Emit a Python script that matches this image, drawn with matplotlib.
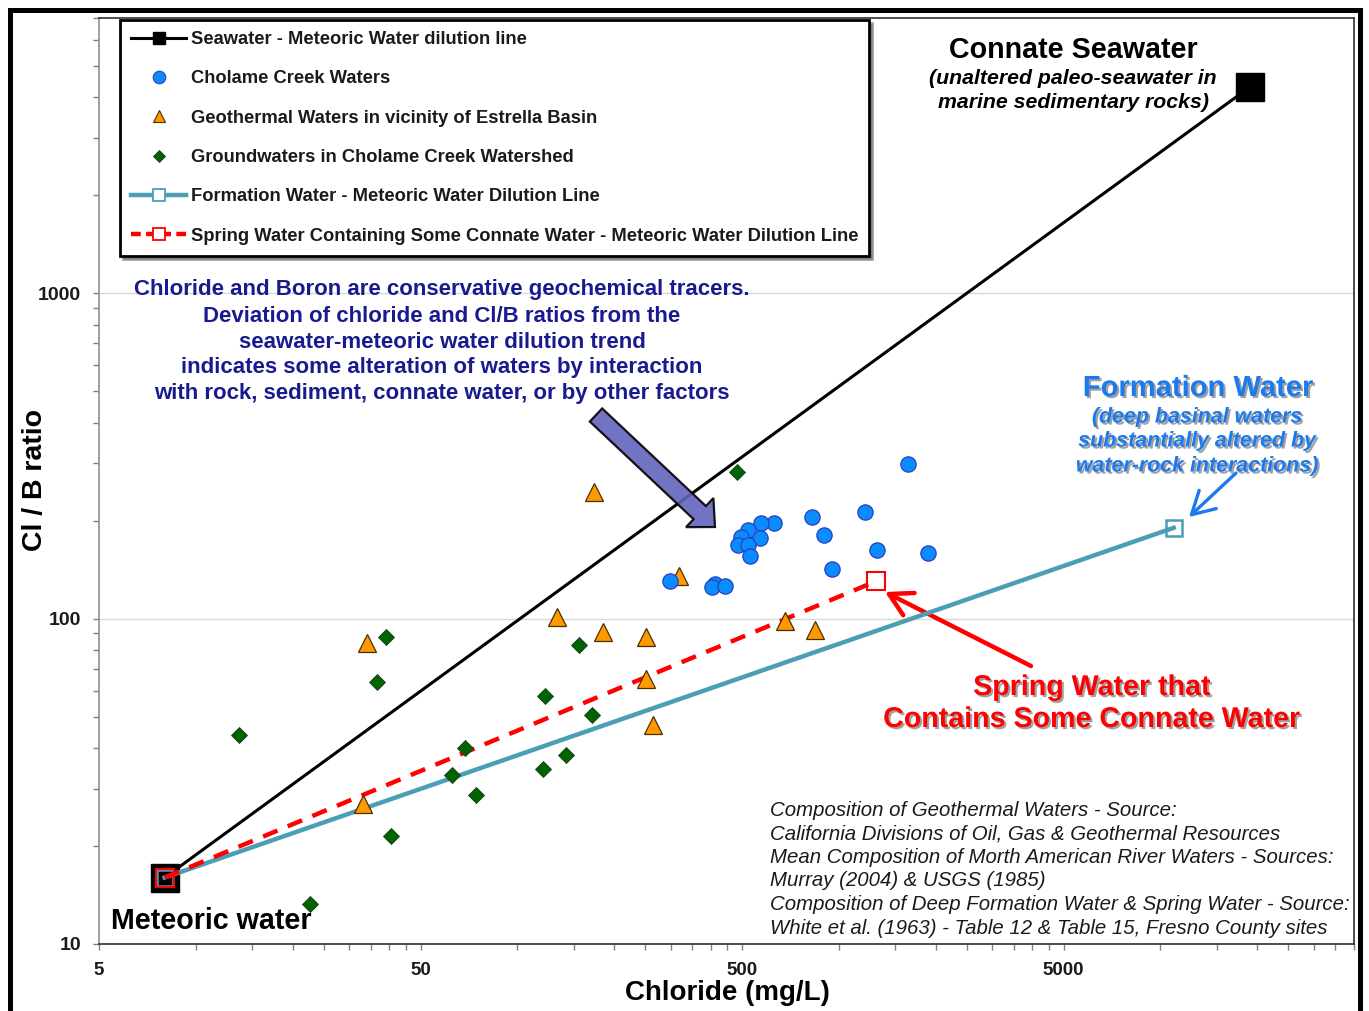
import matplotlib
matplotlib.use('Agg')
import matplotlib.pyplot as plt
from matplotlib.lines import Line2D
from matplotlib.patches import FancyArrow, Rectangle
from matplotlib.transforms import IdentityTransform
import matplotlib.patheffects as pe
from matplotlib.ticker import FixedLocator, NullFormatter

# ---------------- data ----------------
meteoric_cl, meteoric_clb = 8, 16
connate_cl, connate_clb = 19000, 4300
formation_cl, formation_clb = 11000, 190
spring_cl, spring_clb = 1300, 130

cholame_cl = [1640, 1210, 826, 900, 1315, 1890, 954, 630, 573, 521, 497, 569,
              485, 521, 531, 299, 412, 402, 444]
cholame_clb = [298, 212, 205, 180, 162, 159, 142, 197, 197, 187, 178, 177,
               168, 168, 156, 130, 128, 125, 126]

geo_cl = [173, 319, 133, 185, 252, 682, 840, 34, 252, 265, 33]
geo_clb = [245, 135, 101, 91, 88, 98, 92, 84, 65, 47, 27]

gw_cl = [39, 155, 36.5, 13.6, 122, 171, 68.5, 62.5, 142, 120, 74.5, 40.5, 482, 22.7]
gw_clb = [88, 83, 64, 44, 58, 50.5, 40, 33, 38, 34.5, 28.6, 21.4, 282, 13.3]

x_ticks = [5, 50, 500, 5000]
x_tick_labels = ['5', '50', '500', '5000']
y_ticks = [10, 100, 1000]
y_tick_labels = ['10', '100', '1000']

legend_labels = [
    'Seawater - Meteoric Water dilution line',
    'Cholame Creek Waters',
    'Geothermal Waters in vicinity of Estrella Basin',
    'Groundwaters in Cholame Creek Watershed',
    'Formation Water - Meteoric Water Dilution Line',
    'Spring Water Containing Some Connate Water - Meteoric Water Dilution Line',
]

note_lines = [
    'Chloride and Boron are conservative geochemical tracers.',
    'Deviation of chloride and Cl/B ratios from the',
    'seawater-meteoric water dilution trend',
    'indicates some alteration of waters by interaction',
    'with rock, sediment, connate water, or by other factors',
]
source_lines = [
    'Composition of Geothermal Waters - Source:',
    'California Divisions of Oil, Gas & Geothermal Resources',
    'Mean Composition of Morth American River Waters - Sources:',
    'Murray (2004) & USGS (1985)',
    'Composition of Deep Formation Water & Spring Water - Source:',
    'White et al. (1963) - Table 12 & Table 15, Fresno County sites',
]

# ---------------- styles ----------------
SANS = ['Liberation Sans', 'DejaVu Sans']
plt.rcParams['font.family'] = SANS

W, H = 1369, 1011
L, R, T, B = 99, 1354, 18, 944
fig = plt.figure(figsize=(W / 100, H / 100), dpi=100)
ax = fig.add_axes([L / W, 1 - B / H, (R - L) / W, (B - T) / H])


def apos(x, y):
    return ((x - L) / (R - L), (B - y) / (B - T))


ax.set_xscale('log')
ax.set_yscale('log')
ax.set_xlim(5, 40000)
ax.set_ylim(10, 7000)

ax.yaxis.grid(True, which='major', color='#d9d9d9', lw=1)
ax.set_axisbelow(True)

teal = '#4A9FB5'
ax.plot([meteoric_cl, connate_cl], [meteoric_clb, connate_clb], color='black', lw=2.2,
        marker='s', ms=20, mfc='black', mec='black', zorder=3)
ax.plot([meteoric_cl, formation_cl], [meteoric_clb, formation_clb], color=teal, lw=3.2,
        marker='s', ms=12, mfc='none', mec=teal, mew=1.8, zorder=4)
ax.plot([meteoric_cl, spring_cl], [meteoric_clb, spring_clb], color='#ff0000', lw=3.2,
        ls=(0, (3.5, 2.5)), marker='s', ms=12.5, mfc='none', mec='#ff0000', mew=1.5, zorder=5)

ax.plot(gw_cl, gw_clb, ls='none', marker='D', ms=8, mfc='#006400', mec='#1a3a1a', mew=0.6, zorder=6)
ax.plot(geo_cl, geo_clb, ls='none', marker='^', ms=12.5, mfc='#FF9900', mec='#4a3000', mew=0.9, zorder=6)
ax.plot(cholame_cl, cholame_clb, ls='none', marker='o', ms=11, mfc='#0A8CFF', mec='#2a3fc0', mew=0.9, zorder=6)

minor_x = [5 * k * 10 ** n for n in range(4) for k in range(2, 10) if 5 * k * 10 ** n <= 40000]
ax.xaxis.set_major_locator(FixedLocator(x_ticks))
ax.xaxis.set_minor_locator(FixedLocator(minor_x))
ax.xaxis.set_minor_formatter(NullFormatter())
ax.set_xticklabels(x_tick_labels)
ax.yaxis.set_major_locator(FixedLocator(y_ticks))
ax.set_yticklabels(y_tick_labels)
ax.yaxis.set_minor_formatter(NullFormatter())
ax.tick_params(which='both', direction='out', length=4, width=1, color='#808080')
ax.tick_params(axis='x', which='major', pad=9, labelsize=13.5)
ax.tick_params(axis='y', which='major', pad=9, labelsize=14)
for lab in ax.get_xticklabels() + ax.get_yticklabels():
    lab.set_fontweight('bold')
    lab.set_color('#1a1a1a')

for s in ax.spines.values():
    s.set_color('#303030')
    s.set_linewidth(1.2)
ax.spines['left'].set_color('#909090')

ax.set_xlabel('Chloride (mg/L)', fontsize=20, fontweight='bold')
ax.xaxis.label.set_va('center')
ax.xaxis.set_label_coords(*apos(727, 993))
ax.set_ylabel('Cl / B ratio', fontsize=20.5, fontweight='bold')
ax.yaxis.label.set_va('center')
ax.yaxis.set_label_coords(*apos(35, 480))

handles = [
    Line2D([], [], color='black', lw=2.2, marker='s', ms=8, mfc='black'),
    Line2D([], [], ls='none', marker='o', ms=9, mfc='#0A8CFF', mec='#2a3fc0', mew=0.8),
    Line2D([], [], ls='none', marker='^', ms=9, mfc='#FF9900', mec='#4a3000', mew=0.8),
    Line2D([], [], ls='none', marker='D', ms=6, mfc='#006400', mec='#1a3a1a', mew=0.6),
    Line2D([], [], color=teal, lw=3.2, marker='s', ms=8, mfc='white', mec=teal, mew=1.3),
    Line2D([], [], color='#ff0000', lw=3.2, ls=(0, (2.2, 1.2)), marker='s', ms=8, mfc='white', mec='#ff0000', mew=1.3),
]
leg = fig.legend(handles, legend_labels, loc='upper left', bbox_to_anchor=(120 / W, 1 - 20 / H),
                 frameon=True, fancybox=False, shadow=True, handlelength=3.0, handletextpad=0.25,
                 labelspacing=1.22, borderpad=0.6, borderaxespad=0,
                 prop={'family': SANS, 'weight': 'bold', 'size': 13.2})
leg.get_frame().set_edgecolor('black')
leg.get_frame().set_linewidth(2)
for t in leg.get_texts():
    t.set_color('#1a1a1a')

ax.text(*apos(1073, 50), 'Connate Seawater', transform=ax.transAxes, ha='center', va='center',
        fontsize=20.6, fontweight='bold', color='black')
for y, s in [(79, '(unaltered paleo-seawater in'), (103, 'marine sedimentary rocks)')]:
    ax.text(*apos(1073, y), s, transform=ax.transAxes, ha='center', va='center',
            fontsize=15.3, fontweight='bold', style='italic', color='black')

for i, s in enumerate(note_lines):
    ax.text(*apos(442, 290 + 26 * i), s, transform=ax.transAxes, ha='center', va='center',
            fontsize=16, fontweight='bold', color='#1A1A8F')

shadow = [pe.withSimplePatchShadow(offset=(1.5, -1.5), shadow_rgbFace='#555555', alpha=0.55)]
fblue = '#1A7AEE'
ax.text(*apos(1198, 388), 'Formation Water', transform=ax.transAxes, ha='center', va='center',
        fontsize=21, fontweight='bold', color=fblue, path_effects=shadow)
for y, s in [(417, '(deep basinal waters'), (441, 'substantially altered by'),
             (466, 'water-rock interactions)')]:
    ax.text(*apos(1197, y), s, transform=ax.transAxes, ha='center', va='center',
            fontsize=15.4, fontweight='bold', style='italic', color=fblue, path_effects=shadow)

for y, s in [(687, 'Spring Water that'), (719, 'Contains Some Connate Water')]:
    ax.text(*apos(1092, y), s, transform=ax.transAxes, ha='center', va='center',
            fontsize=20.6, fontweight='bold', color='#ff0000', path_effects=shadow)

ax.text(*apos(111, 921), 'Meteoric water', transform=ax.transAxes, ha='left', va='center',
        fontsize=20.6, fontweight='bold', color='black')

for i, s in enumerate(source_lines):
    ax.text(*apos(770, 810 + 23.6 * i), s, transform=ax.transAxes, ha='left', va='center',
            fontsize=14.7, style='italic', color='#1a1a1a')


def fp(x, y):
    return (x, H - y)


big = FancyArrow(*fp(596, 415), 119, -112, width=18, head_width=40, head_length=21,
                 length_includes_head=True, fc='#6464BE', ec='black', lw=1.6, alpha=0.9,
                 transform=IdentityTransform(), zorder=7)
fig.add_artist(big)

ax.annotate('', xy=fp(1189, 517), xytext=fp(1236, 473), xycoords='figure pixels',
            textcoords='figure pixels',
            arrowprops=dict(arrowstyle='->,head_length=0.8,head_width=0.45', color=fblue, lw=2.4,
                            shrinkA=0, shrinkB=0, mutation_scale=20))
ax.annotate('', xy=fp(885, 592), xytext=fp(1031, 666), xycoords='figure pixels',
            textcoords='figure pixels',
            arrowprops=dict(arrowstyle='->,head_length=0.8,head_width=0.45', color='#ff0000', lw=3.2,
                            shrinkA=0, shrinkB=0, mutation_scale=20))

fig.add_artist(Rectangle((9.5, -4), 1350, H - 9.5 + 4, fill=False, ec='black', lw=3.6,
                         transform=IdentityTransform()))

fig.savefig('out.png', dpi=100)
